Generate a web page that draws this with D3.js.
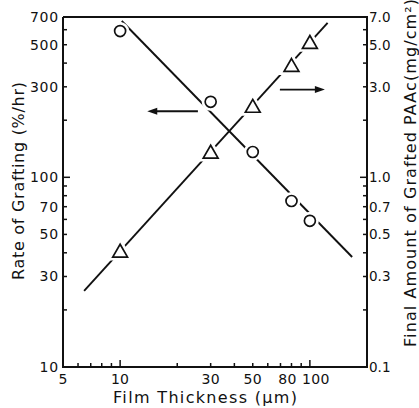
<!DOCTYPE html>
<html>
<head>
<meta charset="utf-8">
<script src="https://cdn.jsdelivr.net/npm/d3@7"></script>
<style>
  body { margin: 0; background: #fff; }
  text { font-family: "DejaVu Sans", sans-serif; fill: #111; }
</style>
</head>
<body>
<svg id="chart" width="419" height="408"></svg>
<script>
// data
const thickness = [10, 30, 50, 80, 100];
const rateOfGrafting = [590, 250, 136, 75, 59];      // %/hr, left axis
const finalAmount = [0.40, 1.33, 2.32, 3.81, 5.04];  // mg/cm2, right axis
const rateFit = [[10.2, 667], [167, 38]];
const amountFit = [[6.46, 0.252], [124, 6.51]];

const xTicks = [5, 10, 30, 50, 80, 100];
const leftTicks = [10, 30, 50, 70, 100, 300, 500, 700];
const rightTicks = ['0.1', '0.3', '0.5', '0.7', '1.0', '3.0', '5.0', '7.0'];

const svg = d3.select('#chart');
const mLeft = 63, mRight = 367, mTop = 17, mBottom = 367;

const x = d3.scaleLog().domain([5, 200]).range([mLeft, mRight]);
const yL = d3.scaleLog().domain([10, 700]).range([mBottom, mTop]);
const yR = d3.scaleLog().domain([0.1, 7]).range([mBottom, mTop]);

const g = svg.append('g');

// frame
g.append('path')
  .attr('d', `M${mLeft},${mTop}V${mBottom}H${mRight}V${mTop}H${mLeft}`)
  .attr('fill', 'none')
  .attr('stroke', '#111')
  .attr('stroke-width', 2);

// minor ticks
const minorX = d3.range(6, 10).concat(d3.range(10, 100, 10), d3.range(100, 200, 100));
g.selectAll('.xt').data(minorX).enter().append('line')
  .attr('x1', d => x(d)).attr('x2', d => x(d))
  .attr('y1', mBottom).attr('y2', d => (d === 10 || d === 100) ? mBottom - 7 : mBottom - 4)
  .attr('stroke', '#111').attr('stroke-width', 1.5);

const minorY = d3.range(20, 100, 10).concat(d3.range(100, 800, 100));
g.selectAll('.ylt').data(minorY).enter().append('line')
  .attr('x1', mLeft).attr('x2', d => d === 100 ? mLeft + 7 : mLeft + 4)
  .attr('y1', d => yL(d)).attr('y2', d => yL(d))
  .attr('stroke', '#111').attr('stroke-width', 1.5);
g.selectAll('.yrt').data(minorY).enter().append('line')
  .attr('x1', mRight).attr('x2', d => d === 100 ? mRight - 7 : mRight - 4)
  .attr('y1', d => yL(d)).attr('y2', d => yL(d))
  .attr('stroke', '#111').attr('stroke-width', 1.5);

// tick labels
const xNudge = { 80: -4, 100: 6 };
g.selectAll('.xl').data(xTicks).enter().append('text')
  .attr('x', d => x(d) + (xNudge[d] || 0)).attr('y', mBottom + 17)
  .attr('text-anchor', 'middle').attr('font-size', 14)
  .attr('letter-spacing', 0.3)
  .text(d => d);

g.selectAll('.yll').data(leftTicks).enter().append('text')
  .attr('x', mLeft - 4).attr('y', d => yL(d) + 5)
  .attr('text-anchor', 'end').attr('font-size', 14)
  .attr('letter-spacing', 0.8)
  .text(d => d);

g.selectAll('.yrl').data(rightTicks).enter().append('text')
  .attr('x', mRight + 2).attr('y', d => yR(+d) + 5)
  .attr('font-size', 13.5)
  .text(d => d);

// axis titles
svg.append('text')
  .attr('transform', `translate(24, 280) rotate(-90)`)
  .attr('font-size', 16)
  .attr('textLength', 198).attr('lengthAdjust', 'spacing')
  .text('Rate of Grafting (%/hr)');

svg.append('text')
  .attr('transform', `translate(416, 347) rotate(-90)`)
  .attr('font-size', 16)
  .attr('textLength', 348).attr('lengthAdjust', 'spacing')
  .text('Final Amount of Grafted PAAc(mg/cm²)');

svg.append('text')
  .attr('x', 113).attr('y', 403)
  .attr('font-size', 16)
  .attr('textLength', 184).attr('lengthAdjust', 'spacing')
  .text('Film Thickness (μm)');

// fitted lines
const lineL = d3.line().x(d => x(d[0])).y(d => yL(d[1]));
const lineR = d3.line().x(d => x(d[0])).y(d => yR(d[1]));
g.append('path').attr('d', lineL(rateFit)).attr('stroke', '#111').attr('stroke-width', 1.9).attr('fill', 'none');
g.append('path').attr('d', lineR(amountFit)).attr('stroke', '#111').attr('stroke-width', 1.9).attr('fill', 'none');

// markers (white halo breaks the line)
const circ = thickness.map((t, i) => [t, rateOfGrafting[i]]);
const tri = thickness.map((t, i) => [t, finalAmount[i]]);
const triPath = d3.symbol().type(d3.symbolTriangle).size(95);

g.selectAll('.ch').data(circ).enter().append('circle')
  .attr('cx', d => x(d[0])).attr('cy', d => yL(d[1])).attr('r', 5.5)
  .attr('fill', '#fff').attr('stroke', '#fff').attr('stroke-width', 7);
g.selectAll('.th').data(tri).enter().append('path')
  .attr('d', triPath)
  .attr('transform', d => `translate(${x(d[0])},${yR(d[1])})`)
  .attr('fill', '#fff').attr('stroke', '#fff').attr('stroke-width', 7);

g.selectAll('.c').data(circ).enter().append('circle')
  .attr('cx', d => x(d[0])).attr('cy', d => yL(d[1])).attr('r', 5.5)
  .attr('fill', '#fff').attr('stroke', '#111').attr('stroke-width', 1.7);
g.selectAll('.t').data(tri).enter().append('path')
  .attr('d', triPath)
  .attr('transform', d => `translate(${x(d[0])},${yR(d[1])})`)
  .attr('fill', '#fff').attr('stroke', '#111').attr('stroke-width', 1.7);

// direction arrows
const arrow = (x1, x2, y) => {
  const dir = Math.sign(x2 - x1);
  g.append('line').attr('x1', x1).attr('x2', x2 - dir * 6).attr('y1', y).attr('y2', y)
    .attr('stroke', '#111').attr('stroke-width', 1.8);
  g.append('path')
    .attr('d', `M${x2},${y}L${x2 - dir * 10},${y - 3.5}L${x2 - dir * 10},${y + 3.5}Z`)
    .attr('fill', '#111');
};
arrow(x(25.7), x(13.9), yL(223));
arrow(x(69.5), x(120), yR(2.9));
</script>
</body>
</html>
